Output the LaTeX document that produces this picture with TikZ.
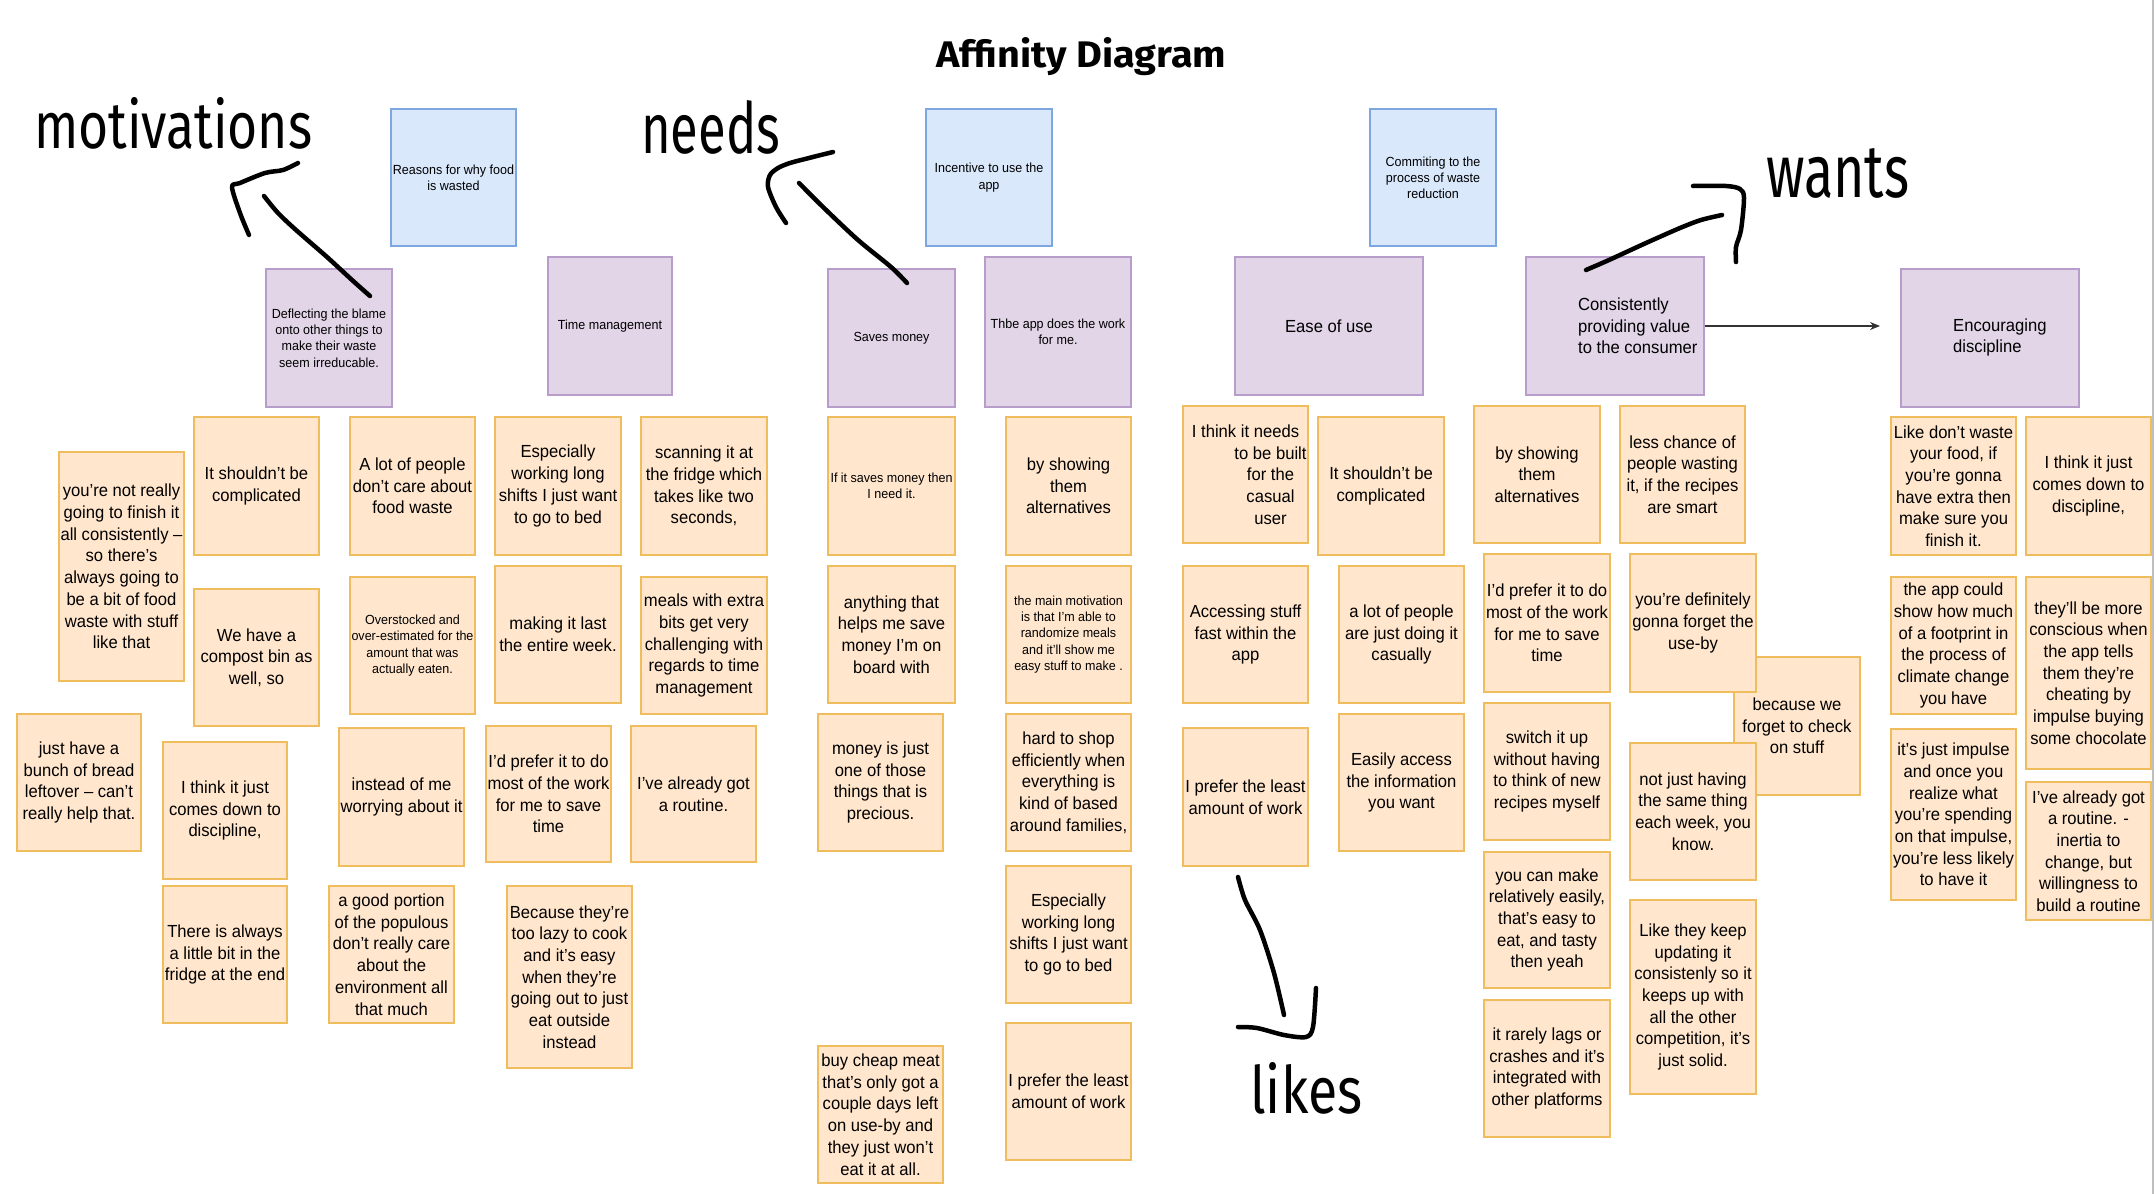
\documentclass[tikz,border=0pt]{standalone}
\usepackage{fontspec}
\setmainfont{Liberation Sans}
\newfontfamily\notefont[FakeStretch=0.95]{Liberation Sans}
\newfontfamily\handfont{Fira Sans}
\usetikzlibrary{arrows.meta}
\definecolor{nfill}{HTML}{FFE6CC}
\definecolor{ndraw}{HTML}{EFBC5E}
\definecolor{pfill}{HTML}{E1D5E7}
\definecolor{pdraw}{HTML}{B79DC9}
\definecolor{bfill}{HTML}{DAE8FC}
\definecolor{bdraw}{HTML}{7EA6E0}
\tikzset{
  note/.style={draw=ndraw, fill=nfill, line width=1.6pt, inner sep=0pt, align=center,
    font=\notefont\fontsize{17.5}{21.7}\selectfont},
  smallnote/.style={note, font=\notefont\fontsize{13.2}{16.2}\selectfont},
  catp/.style={draw=pdraw, fill=pfill, line width=1.4pt, inner sep=0pt, align=center,
    font=\notefont\fontsize{13.2}{16.2}\selectfont},
  catb/.style={catp, draw=bdraw, fill=bfill},
  bigtext/.style={inner sep=0pt, align=left, font=\notefont\fontsize{17.5}{21.7}\selectfont},
  hand/.style={line width=4.5pt, line cap=round, line join=round, black},
  lbl/.style={inner sep=0pt, anchor=base west}
}
\newcommand\mknote[7][note]{\node[#1, minimum width={#5-#3}, minimum height={#6-#4}] (#2) at ({(#3+#5)/2},{(#4+#6)/2}) {#7};}
\begin{document}
\begin{tikzpicture}[x=1pt, y=-1pt]
\useasboundingbox (0,0) rectangle (2156,1194);
\fill[white] (0,0) rectangle (2156,1194);
\draw[gray!50, line width=1.5pt] (2153,0) -- (2153,1194);

% title and hand labels
\node[lbl, font=\handfont\bfseries] (title) at (936,67) {\resizebox{290pt}{30pt}{Affinity Diagram}};
\node[lbl, font=\handfont] (lmot) at (34,148) {\resizebox{278pt}{51pt}{motivations}};
\node[lbl, font=\handfont] (lneeds) at (641,153) {\resizebox{139pt}{53pt}{needs}};
\node[lbl, font=\handfont] (lwants) at (1766,197) {\resizebox{143pt}{49pt}{wants}};
\node[lbl, font=\handfont] (llikes) at (1250,1113) {\resizebox{112pt}{51pt}{likes}};

% category boxes
\mknote[catb]{cReasons}{391}{109}{516}{246}{Reasons for why food\\is wasted}
\mknote[catb]{cIncent}{926}{109}{1052}{246}{Incentive to use the\\app}
\mknote[catb]{cCommit}{1370}{109}{1496}{246}{Commiting to the\\process of waste\\reduction}
\mknote[catp]{cDeflect}{266}{269}{392}{407}{Deflecting the blame\\onto other things to\\make their waste\\seem irreducable.}
\mknote[catp]{cTime}{548}{257}{672}{395}{Time management}
\mknote[catp]{cSaves}{828}{269}{955}{407}{Saves money}
\mknote[catp]{cWork}{985}{257}{1131}{407}{Thbe app does the work\\for me.}
\mknote[catp]{cEase}{1235}{257}{1423}{395}{\fontsize{17.5}{21.7}\selectfont Ease of use}
\mknote[catp]{cValue}{1526}{257}{1704}{395}{}
\mknote[catp]{cDisc}{1901}{269}{2079}{407}{}
\node[bigtext, anchor=west] (tValue) at (1578,326) {Consistently\\providing value\\to the consumer};
\node[bigtext, anchor=west] (tDisc) at (1953,337.5) {Encouraging\\discipline};
\coordinate (discIn) at (1880,326);
\draw[line width=1.3pt, draw=black!80, -{Stealth[length=10pt,width=8pt]}] (cValue.east) -- (discIn);

% motivations column notes
\mknote{n1}{59}{452}{184}{681}{you’re not really\\going to finish it\\all consistently –\\so there’s\\always going to\\be a bit of food\\waste with stuff\\like that}
\mknote{n2}{194}{417}{319}{555}{It shouldn’t be\\complicated}
\mknote{n3}{350}{417}{475}{555}{A lot of people\\don’t care about\\food waste}
\mknote{n4}{495}{417}{621}{555}{Especially\\working long\\shifts I just want\\to go to bed}
\mknote{n5}{641}{417}{767}{555}{scanning it at\\the fridge which\\takes like two\\seconds,}
\mknote{n6}{194}{589}{319}{726}{We have a\\compost bin as\\well, so}
\mknote[smallnote]{n7}{350}{577}{475}{714}{Overstocked and\\over-estimated for the\\amount that was\\actually eaten.}
\mknote{n8}{495}{566}{621}{703}{making it last\\the entire week.}
\mknote{n9}{641}{577}{767}{714}{meals with extra\\bits get very\\challenging with\\regards to time\\management}
\mknote{n10}{17}{714}{141}{851}{just have a\\bunch of bread\\leftover – can’t\\really help that.}
\mknote{n11}{163}{742}{287}{879}{I think it just\\comes down to\\discipline,}
\mknote{n12}{339}{728}{464}{866}{instead of me\\worrying about it}
\mknote{n13}{486}{726}{611}{862}{I’d prefer it to do\\most of the work\\for me to save\\time}
\mknote{n14}{631}{726}{756}{862}{I’ve already got\\a routine.}
\mknote{n15}{163}{886}{287}{1023}{There is always\\a little bit in the\\fridge at the end}
\mknote{n16}{329}{886}{454}{1023}{a good portion\\of the populous\\don’t really care\\about the\\environment all\\that much}
\mknote{n17}{507}{886}{632}{1068}{Because they’re\\too lazy to cook\\and it’s easy\\when they’re\\going out to just\\eat outside\\instead}

% needs / likes columns
\mknote[smallnote]{n18}{828}{417}{955}{555}{If it saves money then\\I need it.}
\mknote{n19}{1006}{417}{1131}{555}{by showing\\them\\alternatives}
\mknote{n20}{1183}{406}{1308}{543}{I think it needs\\\hspace*{50pt}to be built\\\hspace*{50pt}for the\\\hspace*{50pt}casual\\\hspace*{50pt}user}
\mknote{n21}{1318}{417}{1444}{555}{It shouldn’t be\\complicated}
\mknote{n24}{828}{566}{955}{703}{anything that\\helps me save\\money I’m on\\board with}
\mknote[smallnote]{n25}{1006}{566}{1131}{703}{the main motivation\\is that I’m able to\\randomize meals\\and it’ll show me\\easy stuff to make .}
\mknote{n26}{1183}{566}{1308}{703}{Accessing stuff\\fast within the\\app}
\mknote{n27}{1339}{566}{1464}{703}{a lot of people\\are just doing it\\casually}
\mknote{n31}{818}{714}{943}{851}{money is just\\one of those\\things that is\\precious.}
\mknote{n32}{1006}{714}{1131}{851}{hard to shop\\efficiently when\\everything is\\kind of based\\around families,}
\mknote{n33}{1183}{728}{1308}{866}{I prefer the least\\amount of work}
\mknote{n34}{1339}{714}{1464}{851}{Easily access\\the information\\you want}
\mknote{n40}{1006}{866}{1131}{1003}{Especially\\working long\\shifts I just want\\to go to bed}
\mknote{n41}{1006}{1023}{1131}{1160}{I prefer the least\\amount of work}
\mknote{n42}{818}{1046}{943}{1183}{buy cheap meat\\that’s only got a\\couple days left\\on use-by and\\they just won’t\\eat it at all.}

% wants column
\mknote{n30}{1734}{657}{1860}{795}{because we\\forget to check\\on stuff}
\mknote{n22}{1474}{406}{1600}{543}{by showing\\them\\alternatives}
\mknote{n23}{1620}{406}{1745}{543}{less chance of\\people wasting\\it, if the recipes\\are smart}
\mknote{n28}{1484}{554}{1610}{692}{I’d prefer it to do\\most of the work\\for me to save\\time}
\mknote{n29}{1630}{554}{1756}{692}{you’re definitely\\gonna forget the\\use-by}
\mknote{n35}{1484}{703}{1610}{840}{switch it up\\without having\\to think of new\\recipes myself}
\mknote{n36}{1630}{743}{1756}{880}{not just having\\the same thing\\each week, you\\know.}
\mknote{n37}{1484}{852}{1610}{988}{you can make\\relatively easily,\\that’s easy to\\eat, and tasty\\then yeah}
\mknote{n38}{1630}{900}{1756}{1094}{Like they keep\\updating it\\consistenly so it\\keeps up with\\all the other\\competition, it’s\\just solid.}
\mknote{n39}{1484}{1000}{1610}{1137}{it rarely lags or\\crashes and it’s\\integrated with\\other platforms}

% discipline column
\mknote{n43}{1891}{417}{2016}{555}{Like don’t waste\\your food, if\\you’re gonna\\have extra then\\make sure you\\finish it.}
\mknote{n44}{2026}{417}{2151}{555}{I think it just\\comes down to\\discipline,}
\mknote{n45}{1891}{577}{2016}{714}{the app could\\show how much\\of a footprint in\\the process of\\climate change\\you have}
\mknote{n46}{2026}{577}{2151}{769}{they’ll be more\\conscious when\\the app tells\\them they’re\\cheating by\\impulse buying\\some chocolate}
\mknote{n47}{1891}{729}{2016}{900}{it’s just impulse\\and once you\\realize what\\you’re spending\\on that impulse,\\you’re less likely\\to have it}
\mknote{n48}{2026}{782}{2151}{920}{I’ve already got\\a routine. -\\inertia to\\change, but\\willingness to\\build a routine}

% hand-drawn arrows
\draw[hand] plot[smooth] coordinates {(370,296) (352,280) (327,257) (296,230) (278,213) (264,196)};
\draw[hand] plot[smooth] coordinates {(249,235) (240,213) (232,187) (240,183) (265,173) (283,170) (298,163)};
\draw[hand] plot[smooth] coordinates {(907,283) (891,267) (858,240) (824,208) (799,183)};
\draw[hand] plot[smooth] coordinates {(833,152) (809,158) (790,163) (778,168) (770,175) (768,187) (776,207) (786,223)};
\draw[hand] plot[smooth] coordinates {(1586,270) (1609,260) (1646,243) (1680,228) (1701,220) (1722,215)};
\draw[hand] plot[smooth] coordinates {(1693,186) (1726,186) (1740,189) (1744,198) (1741,230) (1736,247) (1736,262)};
\draw[hand] plot[smooth] coordinates {(1238,877) (1245,900) (1260,930) (1274,973) (1284,1015)};
\draw[hand] plot[smooth] coordinates {(1238,1027) (1257,1028) (1284,1035) (1306,1037) (1313,1027) (1316,988)};
\end{tikzpicture}
\end{document}
